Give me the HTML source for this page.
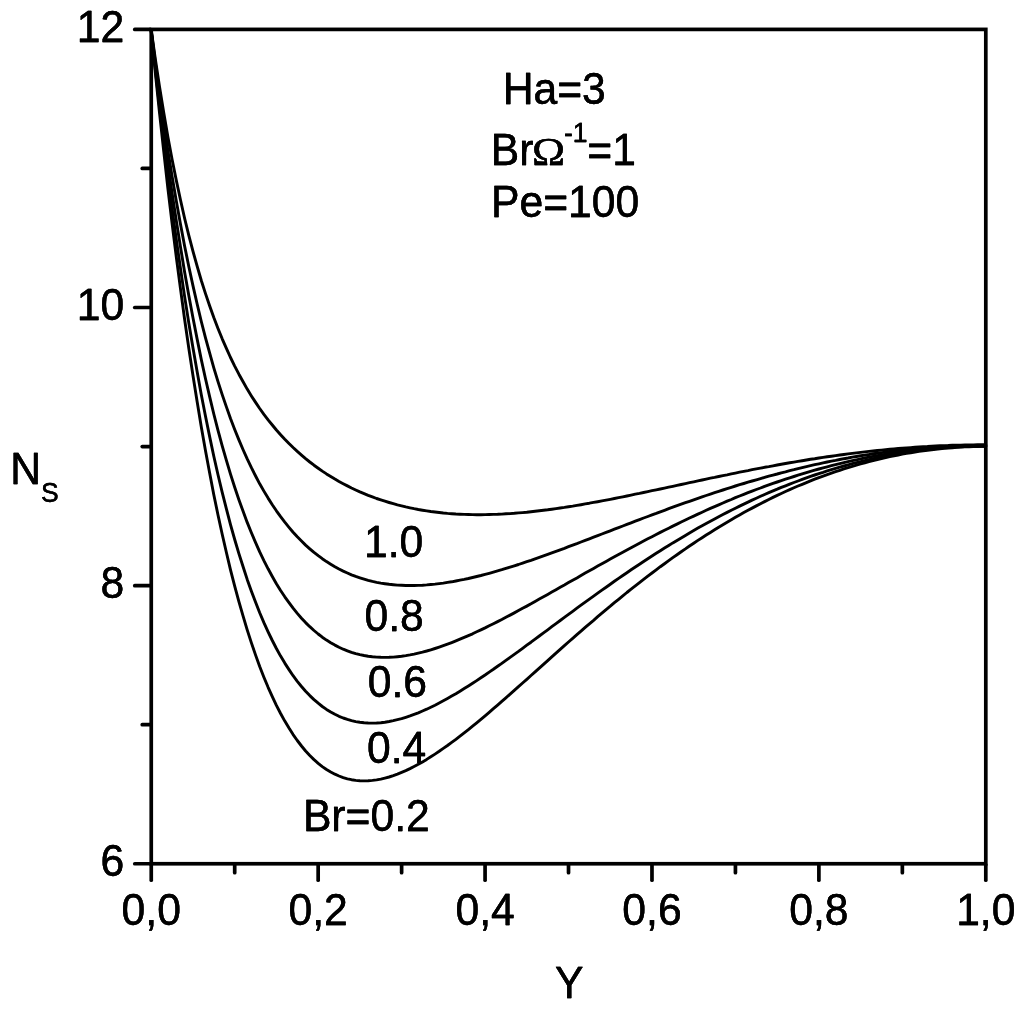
<!DOCTYPE html>
<html lang="en">
<head>
<meta charset="utf-8">
<title>Ns versus Y</title>
<style>
html,body{margin:0;padding:0;background:#fff;}
body{width:1024px;height:1010px;overflow:hidden;}
svg{display:block;}
text{font-family:"Liberation Sans",sans-serif;fill:#000;stroke:#000;stroke-width:0.3px;stroke-linejoin:round;}
.t{font-size:44.3px;}
.s{font-size:27.5px;}
.om{font-family:"Liberation Serif",serif;font-size:39.7px;}
</style>
</head>
<body>
<svg width="1024" height="1010" viewBox="0 0 1024 1010">
<rect x="0" y="0" width="1024" height="1010" fill="#fff"/>
<defs>
<filter id="vb" x="-10%" y="-30%" width="120%" height="160%" color-interpolation-filters="sRGB">
<feOffset in="SourceGraphic" dx="0" dy="-0.35" result="u"/>
<feOffset in="SourceGraphic" dx="0" dy="0.35" result="d"/>
<feMerge><feMergeNode in="u"/><feMergeNode in="d"/></feMerge>
</filter>
</defs>
<g fill="none" stroke="#000" stroke-width="2.9" stroke-linejoin="round" stroke-linecap="round">
<path d="M151.2,31.3 L155.4,73.4 L159.6,113.5 L163.8,151.9 L167.9,188.6 L172.1,223.6 L176.3,257.0 L180.5,288.9 L184.6,319.2 L188.8,348.2 L193.0,375.7 L197.2,402.0 L201.3,426.9 L205.5,450.7 L209.7,473.2 L213.8,494.7 L218.0,515.0 L222.2,534.3 L226.4,552.5 L230.5,569.8 L234.7,586.2 L238.9,601.6 L243.1,616.2 L247.2,629.9 L251.4,642.9 L255.6,655.1 L259.7,666.5 L263.9,677.2 L268.1,687.3 L272.3,696.6 L276.4,705.4 L280.6,713.5 L284.8,721.1 L289.0,728.1 L293.1,734.6 L297.3,740.5 L301.5,746.0 L305.6,751.0 L309.8,755.5 L314.0,759.6 L318.2,763.3 L322.3,766.6 L326.5,769.5 L330.7,772.0 L334.9,774.2 L339.0,776.0 L343.2,777.6 L347.4,778.8 L351.5,779.7 L355.7,780.4 L359.9,780.8 L364.1,780.9 L368.2,780.8 L372.4,780.4 L376.6,779.9 L380.8,779.1 L384.9,778.1 L389.1,777.0 L393.3,775.6 L397.4,774.1 L401.6,772.4 L405.8,770.6 L410.0,768.6 L414.1,766.5 L418.3,764.3 L422.5,761.9 L426.7,759.4 L430.8,756.8 L435.0,754.1 L439.2,751.3 L443.3,748.4 L447.5,745.5 L451.7,742.4 L455.9,739.3 L460.0,736.1 L464.2,732.9 L468.4,729.6 L472.6,726.2 L476.7,722.8 L480.9,719.3 L485.1,715.8 L489.2,712.3 L493.4,708.7 L497.6,705.1 L501.8,701.4 L505.9,697.8 L510.1,694.1 L514.3,690.4 L518.5,686.7 L522.6,683.0 L526.8,679.3 L531.0,675.5 L535.1,671.8 L539.3,668.1 L543.5,664.3 L547.7,660.6 L551.8,656.9 L556.0,653.1 L560.2,649.4 L564.4,645.7 L568.5,642.0 L572.7,638.4 L576.9,634.7 L581.0,631.1 L585.2,627.4 L589.4,623.8 L593.6,620.3 L597.7,616.7 L601.9,613.2 L606.1,609.6 L610.3,606.2 L614.4,602.7 L618.6,599.3 L622.8,595.9 L626.9,592.5 L631.1,589.2 L635.3,585.9 L639.5,582.6 L643.6,579.4 L647.8,576.1 L652.0,573.0 L656.2,569.8 L660.3,566.7 L664.5,563.7 L668.7,560.6 L672.8,557.6 L677.0,554.7 L681.2,551.7 L685.4,548.9 L689.5,546.0 L693.7,543.2 L697.9,540.4 L702.1,537.7 L706.2,535.0 L710.4,532.4 L714.6,529.8 L718.7,527.2 L722.9,524.7 L727.1,522.2 L731.3,519.7 L735.4,517.3 L739.6,514.9 L743.8,512.6 L748.0,510.3 L752.1,508.1 L756.3,505.9 L760.5,503.7 L764.6,501.6 L768.8,499.5 L773.0,497.4 L777.2,495.4 L781.3,493.5 L785.5,491.5 L789.7,489.7 L793.9,487.8 L798.0,486.0 L802.2,484.3 L806.4,482.6 L810.5,480.9 L814.7,479.2 L818.9,477.6 L823.1,476.1 L827.2,474.6 L831.4,473.1 L835.6,471.7 L839.8,470.3 L843.9,468.9 L848.1,467.6 L852.3,466.3 L856.4,465.1 L860.6,463.9 L864.8,462.8 L869.0,461.6 L873.1,460.6 L877.3,459.5 L881.5,458.5 L885.7,457.6 L889.8,456.7 L894.0,455.8 L898.2,455.0 L902.3,454.2 L906.5,453.4 L910.7,452.7 L914.9,452.0 L919.0,451.4 L923.2,450.8 L927.4,450.2 L931.6,449.7 L935.7,449.2 L939.9,448.8 L944.1,448.4 L948.2,448.0 L952.4,447.7 L956.6,447.4 L960.8,447.1 L964.9,446.9 L969.1,446.7 L973.3,446.6 L977.5,446.5 L981.6,446.4 L985.8,446.4"/>
<path d="M151.2,31.1 L155.4,70.1 L159.6,107.3 L163.8,142.7 L167.9,176.5 L172.1,208.7 L176.3,239.4 L180.5,268.6 L184.6,296.4 L188.8,322.9 L193.0,348.0 L197.2,372.0 L201.3,394.7 L205.5,416.3 L209.7,436.9 L213.8,456.3 L218.0,474.8 L222.2,492.3 L226.4,508.9 L230.5,524.6 L234.7,539.5 L238.9,553.6 L243.1,566.8 L247.2,579.4 L251.4,591.2 L255.6,602.3 L259.7,612.8 L263.9,622.6 L268.1,631.8 L272.3,640.5 L276.4,648.5 L280.6,656.1 L284.8,663.1 L289.0,669.6 L293.1,675.7 L297.3,681.3 L301.5,686.5 L305.6,691.2 L309.8,695.6 L314.0,699.6 L318.2,703.2 L322.3,706.5 L326.5,709.4 L330.7,712.0 L334.9,714.3 L339.0,716.3 L343.2,718.0 L347.4,719.4 L351.5,720.6 L355.7,721.6 L359.9,722.3 L364.1,722.8 L368.2,723.0 L372.4,723.1 L376.6,723.0 L380.8,722.7 L384.9,722.2 L389.1,721.5 L393.3,720.7 L397.4,719.7 L401.6,718.6 L405.8,717.3 L410.0,715.9 L414.1,714.4 L418.3,712.8 L422.5,711.0 L426.7,709.2 L430.8,707.2 L435.0,705.2 L439.2,703.0 L443.3,700.8 L447.5,698.5 L451.7,696.1 L455.9,693.7 L460.0,691.2 L464.2,688.6 L468.4,686.0 L472.6,683.3 L476.7,680.6 L480.9,677.8 L485.1,675.0 L489.2,672.1 L493.4,669.3 L497.6,666.3 L501.8,663.4 L505.9,660.4 L510.1,657.4 L514.3,654.4 L518.5,651.4 L522.6,648.3 L526.8,645.2 L531.0,642.2 L535.1,639.1 L539.3,636.0 L543.5,632.9 L547.7,629.8 L551.8,626.7 L556.0,623.6 L560.2,620.5 L564.4,617.4 L568.5,614.4 L572.7,611.3 L576.9,608.2 L581.0,605.2 L585.2,602.1 L589.4,599.1 L593.6,596.1 L597.7,593.1 L601.9,590.1 L606.1,587.2 L610.3,584.2 L614.4,581.3 L618.6,578.4 L622.8,575.5 L626.9,572.7 L631.1,569.8 L635.3,567.0 L639.5,564.2 L643.6,561.5 L647.8,558.7 L652.0,556.0 L656.2,553.3 L660.3,550.7 L664.5,548.1 L668.7,545.5 L672.8,542.9 L677.0,540.4 L681.2,537.9 L685.4,535.4 L689.5,532.9 L693.7,530.5 L697.9,528.1 L702.1,525.8 L706.2,523.5 L710.4,521.2 L714.6,518.9 L718.7,516.7 L722.9,514.5 L727.1,512.4 L731.3,510.2 L735.4,508.2 L739.6,506.1 L743.8,504.1 L748.0,502.1 L752.1,500.1 L756.3,498.2 L760.5,496.3 L764.6,494.5 L768.8,492.7 L773.0,490.9 L777.2,489.2 L781.3,487.4 L785.5,485.8 L789.7,484.1 L793.9,482.5 L798.0,481.0 L802.2,479.4 L806.4,477.9 L810.5,476.4 L814.7,475.0 L818.9,473.6 L823.1,472.3 L827.2,470.9 L831.4,469.6 L835.6,468.4 L839.8,467.2 L843.9,466.0 L848.1,464.8 L852.3,463.7 L856.4,462.6 L860.6,461.6 L864.8,460.6 L869.0,459.6 L873.1,458.6 L877.3,457.7 L881.5,456.9 L885.7,456.0 L889.8,455.2 L894.0,454.4 L898.2,453.7 L902.3,453.0 L906.5,452.3 L910.7,451.7 L914.9,451.1 L919.0,450.5 L923.2,450.0 L927.4,449.5 L931.6,449.1 L935.7,448.6 L939.9,448.2 L944.1,447.9 L948.2,447.6 L952.4,447.3 L956.6,447.0 L960.8,446.8 L964.9,446.6 L969.1,446.5 L973.3,446.3 L977.5,446.2 L981.6,446.2 L985.8,446.2"/>
<path d="M151.2,30.7 L155.4,66.7 L159.6,100.8 L163.8,133.2 L167.9,163.9 L172.1,193.1 L176.3,220.8 L180.5,247.0 L184.6,272.0 L188.8,295.6 L193.0,318.1 L197.2,339.4 L201.3,359.6 L205.5,378.7 L209.7,396.8 L213.8,414.0 L218.0,430.3 L222.2,445.8 L226.4,460.4 L230.5,474.2 L234.7,487.3 L238.9,499.7 L243.1,511.3 L247.2,522.4 L251.4,532.8 L255.6,542.6 L259.7,551.9 L263.9,560.6 L268.1,568.8 L272.3,576.5 L276.4,583.7 L280.6,590.5 L284.8,596.8 L289.0,602.7 L293.1,608.2 L297.3,613.4 L301.5,618.2 L305.6,622.6 L309.8,626.7 L314.0,630.5 L318.2,634.0 L322.3,637.2 L326.5,640.1 L330.7,642.7 L334.9,645.1 L339.0,647.3 L343.2,649.2 L347.4,650.8 L351.5,652.3 L355.7,653.6 L359.9,654.6 L364.1,655.5 L368.2,656.2 L372.4,656.7 L376.6,657.1 L380.8,657.3 L384.9,657.4 L389.1,657.3 L393.3,657.1 L397.4,656.7 L401.6,656.2 L405.8,655.6 L410.0,654.9 L414.1,654.1 L418.3,653.1 L422.5,652.1 L426.7,651.0 L430.8,649.8 L435.0,648.5 L439.2,647.1 L443.3,645.7 L447.5,644.2 L451.7,642.6 L455.9,640.9 L460.0,639.2 L464.2,637.4 L468.4,635.6 L472.6,633.8 L476.7,631.8 L480.9,629.9 L485.1,627.9 L489.2,625.8 L493.4,623.7 L497.6,621.6 L501.8,619.5 L505.9,617.3 L510.1,615.1 L514.3,612.9 L518.5,610.6 L522.6,608.3 L526.8,606.1 L531.0,603.8 L535.1,601.4 L539.3,599.1 L543.5,596.8 L547.7,594.4 L551.8,592.1 L556.0,589.7 L560.2,587.3 L564.4,585.0 L568.5,582.6 L572.7,580.2 L576.9,577.9 L581.0,575.5 L585.2,573.1 L589.4,570.8 L593.6,568.4 L597.7,566.1 L601.9,563.7 L606.1,561.4 L610.3,559.1 L614.4,556.8 L618.6,554.5 L622.8,552.2 L626.9,550.0 L631.1,547.7 L635.3,545.5 L639.5,543.2 L643.6,541.0 L647.8,538.8 L652.0,536.7 L656.2,534.5 L660.3,532.4 L664.5,530.3 L668.7,528.2 L672.8,526.1 L677.0,524.1 L681.2,522.0 L685.4,520.0 L689.5,518.0 L693.7,516.1 L697.9,514.1 L702.1,512.2 L706.2,510.3 L710.4,508.4 L714.6,506.6 L718.7,504.8 L722.9,503.0 L727.1,501.2 L731.3,499.5 L735.4,497.7 L739.6,496.0 L743.8,494.4 L748.0,492.7 L752.1,491.1 L756.3,489.5 L760.5,488.0 L764.6,486.4 L768.8,484.9 L773.0,483.4 L777.2,482.0 L781.3,480.6 L785.5,479.2 L789.7,477.8 L793.9,476.5 L798.0,475.2 L802.2,473.9 L806.4,472.6 L810.5,471.4 L814.7,470.2 L818.9,469.0 L823.1,467.9 L827.2,466.8 L831.4,465.7 L835.6,464.6 L839.8,463.6 L843.9,462.6 L848.1,461.6 L852.3,460.7 L856.4,459.8 L860.6,458.9 L864.8,458.0 L869.0,457.2 L873.1,456.4 L877.3,455.6 L881.5,454.9 L885.7,454.2 L889.8,453.5 L894.0,452.8 L898.2,452.2 L902.3,451.6 L906.5,451.1 L910.7,450.5 L914.9,450.0 L919.0,449.5 L923.2,449.1 L927.4,448.7 L931.6,448.3 L935.7,447.9 L939.9,447.6 L944.1,447.3 L948.2,447.0 L952.4,446.8 L956.6,446.5 L960.8,446.3 L964.9,446.2 L969.1,446.1 L973.3,446.0 L977.5,445.9 L981.6,445.8 L985.8,445.8"/>
<path d="M151.2,30.3 L155.4,63.1 L159.6,94.1 L163.8,123.2 L167.9,150.7 L172.1,176.6 L176.3,201.1 L180.5,224.2 L184.6,245.9 L188.8,266.5 L193.0,285.9 L197.2,304.2 L201.3,321.5 L205.5,337.8 L209.7,353.2 L213.8,367.8 L218.0,381.6 L222.2,394.6 L226.4,406.9 L230.5,418.5 L234.7,429.5 L238.9,439.9 L243.1,449.7 L247.2,458.9 L251.4,467.7 L255.6,476.0 L259.7,483.8 L263.9,491.1 L268.1,498.1 L272.3,504.7 L276.4,510.8 L280.6,516.7 L284.8,522.2 L289.0,527.3 L293.1,532.2 L297.3,536.8 L301.5,541.0 L305.6,545.1 L309.8,548.8 L314.0,552.4 L318.2,555.7 L322.3,558.7 L326.5,561.6 L330.7,564.2 L334.9,566.7 L339.0,569.0 L343.2,571.1 L347.4,573.0 L351.5,574.8 L355.7,576.4 L359.9,577.8 L364.1,579.1 L368.2,580.3 L372.4,581.4 L376.6,582.3 L380.8,583.1 L384.9,583.7 L389.1,584.3 L393.3,584.7 L397.4,585.1 L401.6,585.3 L405.8,585.5 L410.0,585.5 L414.1,585.5 L418.3,585.4 L422.5,585.2 L426.7,584.9 L430.8,584.5 L435.0,584.1 L439.2,583.6 L443.3,583.1 L447.5,582.4 L451.7,581.8 L455.9,581.0 L460.0,580.2 L464.2,579.4 L468.4,578.5 L472.6,577.5 L476.7,576.5 L480.9,575.5 L485.1,574.4 L489.2,573.3 L493.4,572.1 L497.6,570.9 L501.8,569.7 L505.9,568.4 L510.1,567.1 L514.3,565.8 L518.5,564.5 L522.6,563.1 L526.8,561.7 L531.0,560.3 L535.1,558.8 L539.3,557.4 L543.5,555.9 L547.7,554.4 L551.8,552.9 L556.0,551.4 L560.2,549.8 L564.4,548.3 L568.5,546.7 L572.7,545.1 L576.9,543.6 L581.0,542.0 L585.2,540.4 L589.4,538.8 L593.6,537.2 L597.7,535.6 L601.9,534.0 L606.1,532.4 L610.3,530.8 L614.4,529.2 L618.6,527.6 L622.8,526.0 L626.9,524.4 L631.1,522.8 L635.3,521.2 L639.5,519.6 L643.6,518.0 L647.8,516.5 L652.0,514.9 L656.2,513.4 L660.3,511.8 L664.5,510.3 L668.7,508.7 L672.8,507.2 L677.0,505.7 L681.2,504.2 L685.4,502.7 L689.5,501.3 L693.7,499.8 L697.9,498.4 L702.1,496.9 L706.2,495.5 L710.4,494.1 L714.6,492.7 L718.7,491.4 L722.9,490.0 L727.1,488.7 L731.3,487.3 L735.4,486.0 L739.6,484.7 L743.8,483.5 L748.0,482.2 L752.1,481.0 L756.3,479.8 L760.5,478.6 L764.6,477.4 L768.8,476.2 L773.0,475.1 L777.2,474.0 L781.3,472.8 L785.5,471.8 L789.7,470.7 L793.9,469.7 L798.0,468.6 L802.2,467.6 L806.4,466.6 L810.5,465.7 L814.7,464.7 L818.9,463.8 L823.1,462.9 L827.2,462.0 L831.4,461.2 L835.6,460.4 L839.8,459.5 L843.9,458.7 L848.1,458.0 L852.3,457.2 L856.4,456.5 L860.6,455.8 L864.8,455.1 L869.0,454.5 L873.1,453.8 L877.3,453.2 L881.5,452.6 L885.7,452.1 L889.8,451.5 L894.0,451.0 L898.2,450.5 L902.3,450.0 L906.5,449.6 L910.7,449.1 L914.9,448.7 L919.0,448.3 L923.2,448.0 L927.4,447.6 L931.6,447.3 L935.7,447.0 L939.9,446.8 L944.1,446.5 L948.2,446.3 L952.4,446.1 L956.6,445.9 L960.8,445.8 L964.9,445.7 L969.1,445.5 L973.3,445.5 L977.5,445.4 L981.6,445.4 L985.8,445.4"/>
<path d="M151.2,29.7 L155.4,59.4 L159.6,87.1 L163.8,112.9 L167.9,137.0 L172.1,159.4 L176.3,180.4 L180.5,200.0 L184.6,218.3 L188.8,235.4 L193.0,251.4 L197.2,266.4 L201.3,280.5 L205.5,293.6 L209.7,306.0 L213.8,317.6 L218.0,328.5 L222.2,338.8 L226.4,348.4 L230.5,357.5 L234.7,366.1 L238.9,374.2 L243.1,381.8 L247.2,389.1 L251.4,395.9 L255.6,402.4 L259.7,408.5 L263.9,414.3 L268.1,419.8 L272.3,425.0 L276.4,430.0 L280.6,434.7 L284.8,439.2 L289.0,443.5 L293.1,447.5 L297.3,451.4 L301.5,455.1 L305.6,458.6 L309.8,462.0 L314.0,465.2 L318.2,468.2 L322.3,471.1 L326.5,473.9 L330.7,476.5 L334.9,479.1 L339.0,481.5 L343.2,483.7 L347.4,485.9 L351.5,488.0 L355.7,490.0 L359.9,491.9 L364.1,493.6 L368.2,495.3 L372.4,496.9 L376.6,498.5 L380.8,499.9 L384.9,501.2 L389.1,502.5 L393.3,503.7 L397.4,504.9 L401.6,505.9 L405.8,506.9 L410.0,507.8 L414.1,508.7 L418.3,509.5 L422.5,510.2 L426.7,510.9 L430.8,511.5 L435.0,512.0 L439.2,512.5 L443.3,513.0 L447.5,513.4 L451.7,513.7 L455.9,514.0 L460.0,514.2 L464.2,514.4 L468.4,514.5 L472.6,514.6 L476.7,514.7 L480.9,514.7 L485.1,514.6 L489.2,514.5 L493.4,514.4 L497.6,514.3 L501.8,514.1 L505.9,513.8 L510.1,513.6 L514.3,513.3 L518.5,512.9 L522.6,512.6 L526.8,512.2 L531.0,511.7 L535.1,511.3 L539.3,510.8 L543.5,510.3 L547.7,509.8 L551.8,509.2 L556.0,508.6 L560.2,508.0 L564.4,507.4 L568.5,506.7 L572.7,506.1 L576.9,505.4 L581.0,504.7 L585.2,503.9 L589.4,503.2 L593.6,502.4 L597.7,501.7 L601.9,500.9 L606.1,500.1 L610.3,499.3 L614.4,498.5 L618.6,497.6 L622.8,496.8 L626.9,496.0 L631.1,495.1 L635.3,494.2 L639.5,493.4 L643.6,492.5 L647.8,491.6 L652.0,490.7 L656.2,489.8 L660.3,489.0 L664.5,488.1 L668.7,487.2 L672.8,486.3 L677.0,485.4 L681.2,484.5 L685.4,483.6 L689.5,482.7 L693.7,481.8 L697.9,480.9 L702.1,480.0 L706.2,479.1 L710.4,478.2 L714.6,477.4 L718.7,476.5 L722.9,475.6 L727.1,474.8 L731.3,473.9 L735.4,473.1 L739.6,472.2 L743.8,471.4 L748.0,470.6 L752.1,469.7 L756.3,468.9 L760.5,468.1 L764.6,467.3 L768.8,466.6 L773.0,465.8 L777.2,465.0 L781.3,464.3 L785.5,463.5 L789.7,462.8 L793.9,462.1 L798.0,461.4 L802.2,460.7 L806.4,460.0 L810.5,459.3 L814.7,458.7 L818.9,458.0 L823.1,457.4 L827.2,456.8 L831.4,456.2 L835.6,455.6 L839.8,455.0 L843.9,454.5 L848.1,453.9 L852.3,453.4 L856.4,452.9 L860.6,452.4 L864.8,451.9 L869.0,451.4 L873.1,451.0 L877.3,450.5 L881.5,450.1 L885.7,449.7 L889.8,449.3 L894.0,448.9 L898.2,448.5 L902.3,448.2 L906.5,447.9 L910.7,447.6 L914.9,447.3 L919.0,447.0 L923.2,446.7 L927.4,446.5 L931.6,446.2 L935.7,446.0 L939.9,445.8 L944.1,445.6 L948.2,445.5 L952.4,445.3 L956.6,445.2 L960.8,445.1 L964.9,445.0 L969.1,444.9 L973.3,444.9 L977.5,444.8 L981.6,444.8 L985.8,444.8"/>
</g>
<rect x="151.25" y="29.4" width="834.55" height="834.35" fill="none" stroke="#000" stroke-width="3.7"/>
<g stroke="#000" stroke-width="3.7" stroke-linecap="round">
<line x1="151.25" y1="864.75" x2="151.25" y2="880.25"/><line x1="234.70" y1="864.75" x2="234.70" y2="872.75"/><line x1="318.16" y1="864.75" x2="318.16" y2="880.25"/><line x1="401.62" y1="864.75" x2="401.62" y2="872.75"/><line x1="485.07" y1="864.75" x2="485.07" y2="880.25"/><line x1="568.52" y1="864.75" x2="568.52" y2="872.75"/><line x1="651.98" y1="864.75" x2="651.98" y2="880.25"/><line x1="735.43" y1="864.75" x2="735.43" y2="872.75"/><line x1="818.89" y1="864.75" x2="818.89" y2="880.25"/><line x1="902.35" y1="864.75" x2="902.35" y2="872.75"/><line x1="985.80" y1="864.75" x2="985.80" y2="880.25"/><line x1="150.25" y1="863.75" x2="134.75" y2="863.75"/><line x1="150.25" y1="724.69" x2="142.25" y2="724.69"/><line x1="150.25" y1="585.63" x2="134.75" y2="585.63"/><line x1="150.25" y1="446.57" x2="142.25" y2="446.57"/><line x1="150.25" y1="307.52" x2="134.75" y2="307.52"/><line x1="150.25" y1="168.46" x2="142.25" y2="168.46"/><line x1="150.25" y1="29.40" x2="134.75" y2="29.40"/>
</g>
<text class="t" text-anchor="middle" filter="url(#vb)" transform="translate(151.25 924.80) scale(0.963 1)">0,0</text>
<text class="t" text-anchor="middle" filter="url(#vb)" transform="translate(318.16 924.80) scale(0.963 1)">0,2</text>
<text class="t" text-anchor="middle" filter="url(#vb)" transform="translate(485.07 924.80) scale(0.963 1)">0,4</text>
<text class="t" text-anchor="middle" filter="url(#vb)" transform="translate(651.98 924.80) scale(0.963 1)">0,6</text>
<text class="t" text-anchor="middle" filter="url(#vb)" transform="translate(818.89 924.80) scale(0.963 1)">0,8</text>
<text class="t" text-anchor="middle" filter="url(#vb)" transform="translate(985.80 924.80) scale(0.963 1)">1,0</text>
<text class="t" text-anchor="end" filter="url(#vb)" transform="translate(124.20 876.15) scale(0.963 1)">6</text>
<text class="t" text-anchor="end" filter="url(#vb)" transform="translate(124.20 598.03) scale(0.963 1)">8</text>
<text class="t" text-anchor="end" filter="url(#vb)" transform="translate(124.20 319.92) scale(0.963 1)">10</text>
<text class="t" text-anchor="end" filter="url(#vb)" transform="translate(124.20 41.80) scale(0.963 1)">12</text>
<text class="t" text-anchor="middle" filter="url(#vb)" transform="translate(569.10 998.30) scale(0.963 1)">Y</text>
<text class="t" filter="url(#vb)" transform="translate(10.25 484.40) scale(0.963 1)">N<tspan class="s" x="31.93" dy="17.3">S</tspan></text>
<text class="t" filter="url(#vb)" transform="translate(502.70 103.70) scale(0.963 1)">Ha=3</text>
<text class="t" filter="url(#vb)" transform="translate(490.80 164.60) scale(0.963 1)">Br<tspan class="om" x="42.78" textLength="34.41" lengthAdjust="spacingAndGlyphs">Ω</tspan><tspan class="s" x="76.01" dy="-23.1">-1</tspan><tspan x="100.21" dy="23.1">=1</tspan></text>
<text class="t" filter="url(#vb)" transform="translate(491.00 217.30) scale(0.963 1)">Pe=100</text>
<text class="t" filter="url(#vb)" transform="translate(364.00 556.50) scale(0.963 1)">1.0</text>
<text class="t" filter="url(#vb)" transform="translate(364.50 631.30) scale(0.963 1)">0.8</text>
<text class="t" filter="url(#vb)" transform="translate(367.70 697.30) scale(0.963 1)">0.6</text>
<text class="t" filter="url(#vb)" transform="translate(367.00 763.00) scale(0.963 1)">0.4</text>
<text class="t" filter="url(#vb)" transform="translate(302.90 830.90) scale(0.963 1)">Br=0.2</text>
</svg>
</body>
</html>
